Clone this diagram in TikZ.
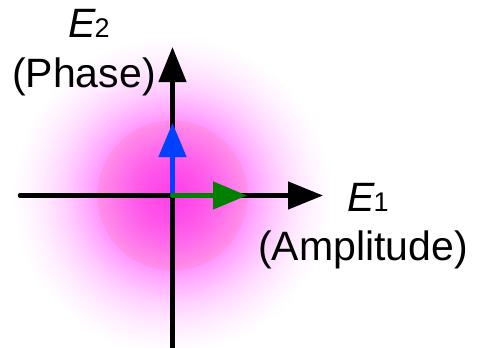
\documentclass[tikz,border=0pt]{standalone}
\usepackage{fontspec}
\setmainfont{Liberation Sans}
\usetikzlibrary{arrows.meta}
\definecolor{glowmag}{RGB}{255,45,255}
\definecolor{diskpink}{RGB}{255,130,180}
\definecolor{vecblue}{RGB}{0,64,255}
\definecolor{vecgreen}{RGB}{0,128,0}
\tikzset{
  axis/.style={line width=4.5pt,-{Triangle[length=35pt,width=27pt]}},
  vec/.style={line width=4.5pt,line cap=round,-{Triangle[length=34pt,width=27pt]}},
  lbl/.style={inner sep=0pt,anchor=base west,font=\fontsize{41}{48}\selectfont},
}
\begin{document}
\begin{tikzpicture}[x=1pt,y=-1pt]
\useasboundingbox (0,0) rectangle (477,348);
\coordinate (O) at (172.5,195.5);
\foreach \i in {0,...,79}{
  \pgfmathsetmacro\r{160-2*\i}
  \pgfmathsetmacro\w{max(0,100*(exp(-(\r/95)^2)-0.058)/0.942)}
  \fill[glowmag!\w!white] (O) circle[radius=\r];
}
\fill[diskpink,opacity=0.28] (O) circle[radius=75];
\coordinate (xl) at (20,195.5);
\coordinate (xr) at (323,195.5);
\coordinate (yb) at (172.5,350);
\coordinate (yt) at (172.5,47);
\coordinate (vb) at (172.5,123);
\coordinate (vg) at (247,195.5);
\draw[axis,line cap=round] (xl) -- (xr);
\draw[axis] (yb) -- (yt);
\draw[vec,vecblue] (O) -- (vb);
\draw[vec,vecgreen] (O) -- (vg);
\node[lbl] (e2) at (68,37) {\itshape E\kern-1pt{\upshape\fontsize{27}{30}\selectfont 2}};
\node[lbl] (phase) at (12,87) {(Phase)};
\node[lbl] (e1) at (347,211) {\itshape E\kern-1pt{\upshape\fontsize{27}{30}\selectfont 1}};
\node[lbl] (amp) at (258,260) {(Amplitude)};
\end{tikzpicture}
\end{document}
